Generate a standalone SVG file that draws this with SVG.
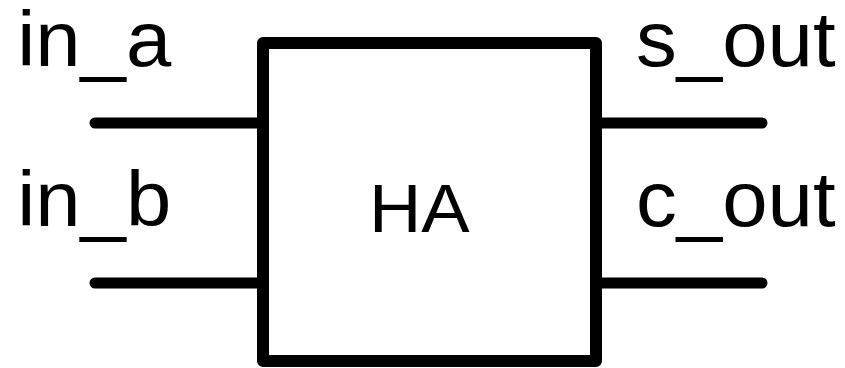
<svg xmlns="http://www.w3.org/2000/svg" width="845" height="368" viewBox="0 0 845 368">
<style>
.lbl{font-family:"Liberation Sans",Arial,sans-serif;font-size:77px;fill:#000}
.wire{stroke:#000;stroke-width:11;stroke-linecap:round;fill:none}
.box{stroke:#000;stroke-width:12;stroke-linejoin:round;fill:#fff}
</style>
<rect width="845" height="368" fill="#fff"/>
<g id="connectors">
<line class="wire" x1="95" y1="123" x2="263" y2="123"/>
<line class="wire" x1="95" y1="283" x2="263" y2="283"/>
<line class="wire" x1="596" y1="123" x2="762" y2="123"/>
<line class="wire" x1="596" y1="283" x2="762" y2="283"/>
</g>
<g id="ha">
<rect class="box" x="263" y="43" width="333" height="318"/>
<text x="369" y="232" font-family="Liberation Sans, Arial, sans-serif" font-size="68" textLength="100.7" lengthAdjust="spacingAndGlyphs">HA</text>
</g>
<g id="in_a"><text class="lbl" x="17.2" y="66" textLength="154" lengthAdjust="spacingAndGlyphs">in_a</text></g>
<g id="in_b"><text class="lbl" x="17.2" y="226" textLength="154" lengthAdjust="spacingAndGlyphs">in_b</text></g>
<g id="s_out"><text class="lbl" x="636" y="66" textLength="199.6" lengthAdjust="spacingAndGlyphs">s_out</text></g>
<g id="c_out"><text class="lbl" x="636" y="226" textLength="199.6" lengthAdjust="spacingAndGlyphs">c_out</text></g>
</svg>
